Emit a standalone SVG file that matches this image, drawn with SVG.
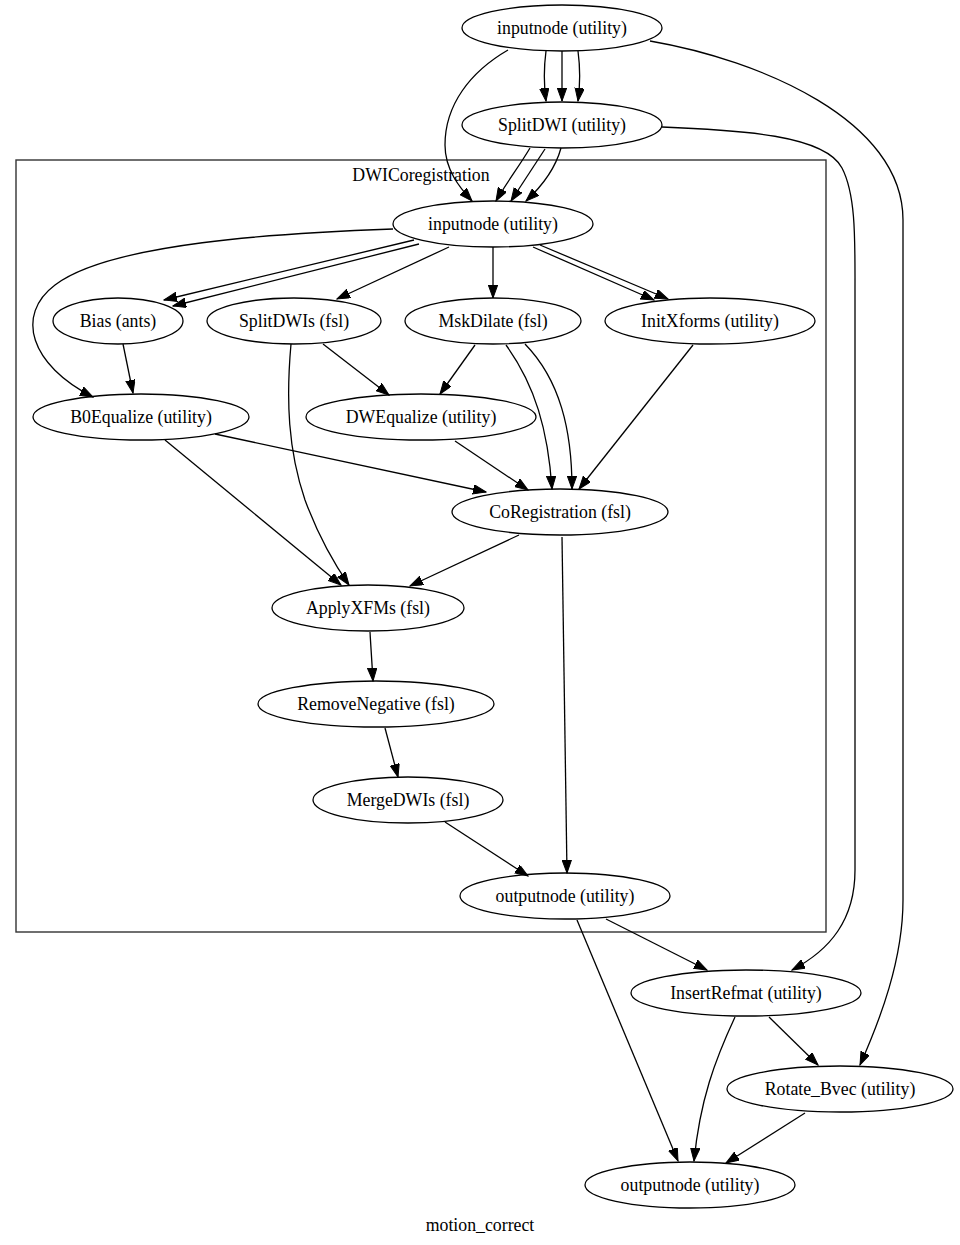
<svg xmlns="http://www.w3.org/2000/svg" width="960" height="1245" viewBox="0 0 960 1245">
<style>
  .node ellipse { fill: none; stroke: #000; stroke-width: 1.3; }
  .node text, .lbl { font-family: "Liberation Serif", "Times New Roman", serif; font-size: 17.8px; fill: #000; text-anchor: middle; }
  .edges path { fill: none; stroke: #000; stroke-width: 1.3; marker-end: url(#arr); }
  .cluster { fill: none; stroke: #333; stroke-width: 1.4; }
</style>
<defs>
  <marker id="arr" markerUnits="userSpaceOnUse" markerWidth="14" markerHeight="10" refX="13" refY="4.7" orient="auto">
    <path d="M0,0 L13,4.7 L0,9.4 z" fill="#000" stroke="#000" stroke-width="1"/>
  </marker>
</defs>
<rect width="960" height="1245" fill="#fff"/>

<g id="cluster_DWICoregistration">
  <rect class="cluster" x="16" y="160" width="810" height="772"/>
  <text class="lbl" x="421" y="181">DWICoregistration</text>
</g>

<g class="edges" id="edges">
  <!-- top inputnode -> SplitDWI -->
  <path d="M546,51 C 544,66 544,86 546,101"/>
  <path d="M562,51 L562,101"/>
  <path d="M578,51 C 580,66 580,86 578,101"/>
  <!-- top inputnode -> inner inputnode -->
  <path d="M508,50 C 470,72 445,105 445,145 C 445,170 460,188 472,201"/>
  <!-- top inputnode -> Rotate_Bvec -->
  <path d="M650,41 C 760,60 903,120 903,220 L903,900 C 903,960 880,1020 860,1065"/>
  <!-- SplitDWI -> InsertRefmat -->
  <path d="M662,127 C 740,130 825,135 842,168 C 856,195 855,240 855,290 L855,870 C 855,920 830,950 792,970"/>
  <!-- SplitDWI -> inner inputnode -->
  <path d="M530,148 C 520,165 505,185 496,201"/>
  <path d="M545,149 L511,201"/>
  <path d="M561,148 C 555,170 540,188 526,201"/>
  <!-- inner inputnode -> B0Equalize -->
  <path d="M393,229 C 280,233 110,243 55,285 C 15,315 30,365 93,397"/>
  <!-- inner inputnode -> Bias x2 -->
  <path d="M414,240 L164,300"/>
  <path d="M419,244 L173,306"/>
  <!-- inner inputnode -> SplitDWIs -->
  <path d="M449,247 L337,299"/>
  <!-- inner inputnode -> MskDilate -->
  <path d="M493,247 L493,298"/>
  <!-- inner inputnode -> InitXforms x2 -->
  <path d="M533,247 L654,300"/>
  <path d="M540,245 L668,299"/>
  <!-- Bias -> B0Equalize -->
  <path d="M123,344 L133,393"/>
  <!-- SplitDWIs -> DWEqualize -->
  <path d="M323,344 L389,395"/>
  <!-- SplitDWIs -> ApplyXFMs -->
  <path d="M291,344 C 286,400 288,450 305,500 C 318,535 335,565 349,585"/>
  <!-- MskDilate -> DWEqualize -->
  <path d="M475,345 L440,394"/>
  <!-- MskDilate -> CoRegistration x2 -->
  <path d="M506,345 C 535,385 548,430 552,489"/>
  <path d="M525,344 C 560,380 572,430 572,489"/>
  <!-- InitXforms -> CoRegistration -->
  <path d="M693,345 L579,489"/>
  <!-- B0Equalize -> CoRegistration -->
  <path d="M215,434 L486,492"/>
  <!-- B0Equalize -> ApplyXFMs -->
  <path d="M165,440 L341,585"/>
  <!-- DWEqualize -> CoRegistration -->
  <path d="M455,441 L528,490"/>
  <!-- CoRegistration -> ApplyXFMs -->
  <path d="M519,535 L410,586"/>
  <!-- CoRegistration -> inner outputnode -->
  <path d="M562,537 L567,873"/>
  <!-- ApplyXFMs -> RemoveNegative -->
  <path d="M370,632 L373,681"/>
  <!-- RemoveNegative -> MergeDWIs -->
  <path d="M385,728 L398,777"/>
  <!-- MergeDWIs -> inner outputnode -->
  <path d="M445,822 L528,876"/>
  <!-- inner outputnode -> InsertRefmat -->
  <path d="M606,919 L707,970"/>
  <!-- inner outputnode -> outputnode -->
  <path d="M577,920 L678,1161"/>
  <!-- InsertRefmat -> outputnode -->
  <path d="M735,1017 C 715,1060 700,1100 694,1161"/>
  <!-- InsertRefmat -> Rotate_Bvec -->
  <path d="M769,1017 L818,1065"/>
  <!-- Rotate_Bvec -> outputnode -->
  <path d="M805,1113 L726,1163"/>
</g>

<g class="node" id="node_inputnode_top"><ellipse cx="562" cy="28" rx="100" ry="23"/><text x="562" y="34">inputnode (utility)</text></g>
<g class="node" id="node_SplitDWI"><ellipse cx="562" cy="125" rx="100" ry="23"/><text x="562" y="131">SplitDWI (utility)</text></g>
<g class="node" id="node_inputnode_inner"><ellipse cx="493" cy="224" rx="100" ry="23"/><text x="493" y="230">inputnode (utility)</text></g>
<g class="node" id="node_Bias"><ellipse cx="118" cy="321" rx="65" ry="23"/><text x="118" y="327">Bias (ants)</text></g>
<g class="node" id="node_SplitDWIs"><ellipse cx="294" cy="321" rx="87" ry="23"/><text x="294" y="327">SplitDWIs (fsl)</text></g>
<g class="node" id="node_MskDilate"><ellipse cx="493" cy="321" rx="88" ry="23"/><text x="493" y="327">MskDilate (fsl)</text></g>
<g class="node" id="node_InitXforms"><ellipse cx="710" cy="321" rx="105" ry="23"/><text x="710" y="327">InitXforms (utility)</text></g>
<g class="node" id="node_B0Equalize"><ellipse cx="141" cy="417" rx="108" ry="23"/><text x="141" y="423">B0Equalize (utility)</text></g>
<g class="node" id="node_DWEqualize"><ellipse cx="421" cy="417" rx="115" ry="23"/><text x="421" y="423">DWEqualize (utility)</text></g>
<g class="node" id="node_CoRegistration"><ellipse cx="560" cy="512" rx="108" ry="23"/><text x="560" y="518">CoRegistration (fsl)</text></g>
<g class="node" id="node_ApplyXFMs"><ellipse cx="368" cy="608" rx="96" ry="23"/><text x="368" y="614">ApplyXFMs (fsl)</text></g>
<g class="node" id="node_RemoveNegative"><ellipse cx="376" cy="704" rx="118" ry="23"/><text x="376" y="710">RemoveNegative (fsl)</text></g>
<g class="node" id="node_MergeDWIs"><ellipse cx="408" cy="800" rx="95" ry="23"/><text x="408" y="806">MergeDWIs (fsl)</text></g>
<g class="node" id="node_outputnode_inner"><ellipse cx="565" cy="896" rx="105" ry="23"/><text x="565" y="902">outputnode (utility)</text></g>
<g class="node" id="node_InsertRefmat"><ellipse cx="746" cy="993" rx="115" ry="23"/><text x="746" y="999">InsertRefmat (utility)</text></g>
<g class="node" id="node_Rotate_Bvec"><ellipse cx="840" cy="1089" rx="113" ry="23"/><text x="840" y="1095">Rotate_Bvec (utility)</text></g>
<g class="node" id="node_outputnode"><ellipse cx="690" cy="1185" rx="105" ry="23"/><text x="690" y="1191">outputnode (utility)</text></g>

<text class="lbl" x="480" y="1231">motion_correct</text>
</svg>
